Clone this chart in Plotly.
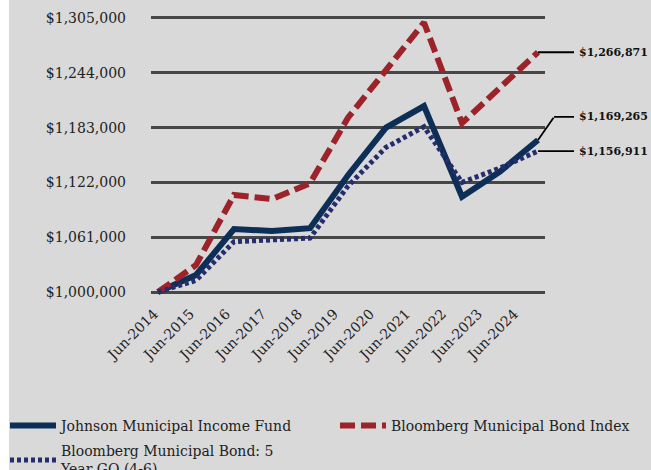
import plotly.graph_objects as go

categories = ["Jun-2014", "Jun-2015", "Jun-2016", "Jun-2017", "Jun-2018", "Jun-2019",
              "Jun-2020", "Jun-2021", "Jun-2022", "Jun-2023", "Jun-2024"]
fund = [1000000, 1019000, 1070000, 1068000, 1071000, 1130000, 1183000, 1207000, 1106000, 1134000, 1169265]
muni_index = [1000000, 1030000, 1108000, 1103500, 1121000, 1194000, 1247000, 1300000, 1188000, 1227000, 1266871]
go_index = [1000000, 1013000, 1056000, 1058000, 1060000, 1118000, 1161000, 1184000, 1122000, 1138000, 1156911]
y_ticks = [1000000, 1061000, 1122000, 1183000, 1244000, 1305000]

names = ["Johnson Municipal Income Fund", "Bloomberg Municipal Bond Index",
         "Bloomberg Municipal Bond: 5<br>Year GO (4-6)"]

BG = "#d9d9d9"
NAVY = "#0d2e57"
RED = "#9c2329"
DOT = "#252d6c"
FONT = "DejaVu Serif"
TXT = "#222222"

idx = list(range(len(categories)))

fig = go.Figure()
fig.add_trace(go.Scatter(x=idx, y=fund, name=names[0], mode="lines", legend="legend",
                         legendgroup="g1",
                         line=dict(color=NAVY, width=6), hoverinfo="skip"))
fig.add_trace(go.Scatter(x=idx, y=muni_index, name=names[1], mode="lines", legend="legend2",
                         legendgroup="g2",
                         line=dict(color=RED, width=6, dash="15px,6px"), hoverinfo="skip"))
fig.add_trace(go.Scatter(x=idx, y=go_index, name=names[2], mode="lines", legend="legend",
                         legendgroup="g3",
                         line=dict(color=DOT, width=5, dash="4px,3px"), hoverinfo="skip"))
# invisible trace carrying the category tick-label axis
fig.add_trace(go.Scatter(x=idx, y=fund, xaxis="x2", mode="lines", opacity=0,
                         showlegend=False, hoverinfo="skip"))

# end labels with leader lines (annotation arrows are not clipped to the plot area)
arrow_common = dict(showarrow=True, arrowhead=0, arrowwidth=1.8, arrowcolor="black",
                    axref="pixel", ayref="pixel")
label_font = dict(family=FONT, size=11, color="#111111")

# horizontal leaders
for val in (muni_index[-1], go_index[-1]):
    fig.add_annotation(x=idx[-1], y=val, text="<b>${:,.0f}</b>".format(val),
                       ax=36, ay=0, xanchor="left", yanchor="middle", borderpad=4,
                       font=label_font, **arrow_common)

# elbow leader for the fund
fig.add_annotation(x=idx[-1], y=fund[-1], text=" ", ax=16, ay=-23,
                   xanchor="center", yanchor="middle", borderpad=0,
                   font=dict(size=1), **arrow_common)
fig.add_annotation(x=idx[-1], y=fund[-1], xshift=16, yshift=23,
                   text="<b>${:,.0f}</b>".format(fund[-1]),
                   ax=20, ay=0, xanchor="left", yanchor="middle", borderpad=4,
                   font=label_font, **arrow_common)

# white strip on the left edge
fig.add_shape(type="rect", xref="paper", yref="paper", x0=-0.45, x1=(9 - 151) / 394,
              y0=-2, y1=2, fillcolor="white", line=dict(width=0), layer="below")

legend_common = dict(orientation="v", xref="container", yref="container",
                     xanchor="left", yanchor="top", itemwidth=46, tracegroupgap=4,
                     bgcolor="rgba(0,0,0,0)", itemclick=False, itemdoubleclick=False,
                     font=dict(family=FONT, size=14, color=TXT))

fig.update_layout(
    width=651, height=470,
    margin=dict(l=151, r=106, t=9, b=169, autoexpand=False),
    paper_bgcolor=BG, plot_bgcolor=BG,
    font=dict(family=FONT, size=14, color=TXT),
    showlegend=True,
    legend=dict(x=5 / 651, y=1 - 410 / 470, **legend_common),
    legend2=dict(x=335 / 651, y=1 - 410 / 470, **legend_common),
    xaxis=dict(range=[-0.184, 10.184], showticklabels=False, showgrid=False,
               zeroline=False, showline=False, ticks=""),
    xaxis2=dict(overlaying="x", anchor="y", side="bottom", range=[-0.25, 10.694],
                tickvals=idx, ticktext=categories, tickangle=-45, showgrid=False,
                zeroline=False, showline=False, ticks="", ticklabelstandoff=1,
                ticklabelshift=-6,
                tickfont=dict(family=FONT, size=14, color=TXT)),
    yaxis=dict(range=[990000, 1315000], tickvals=y_ticks, tickformat="$,.0f",
               showgrid=True, gridcolor="#474747", gridwidth=2.5, zeroline=False,
               showline=False, ticks="", ticklabelstandoff=24,
               tickfont=dict(family=FONT, size=14, color=TXT)),
)

fig.write_html("out.html")
